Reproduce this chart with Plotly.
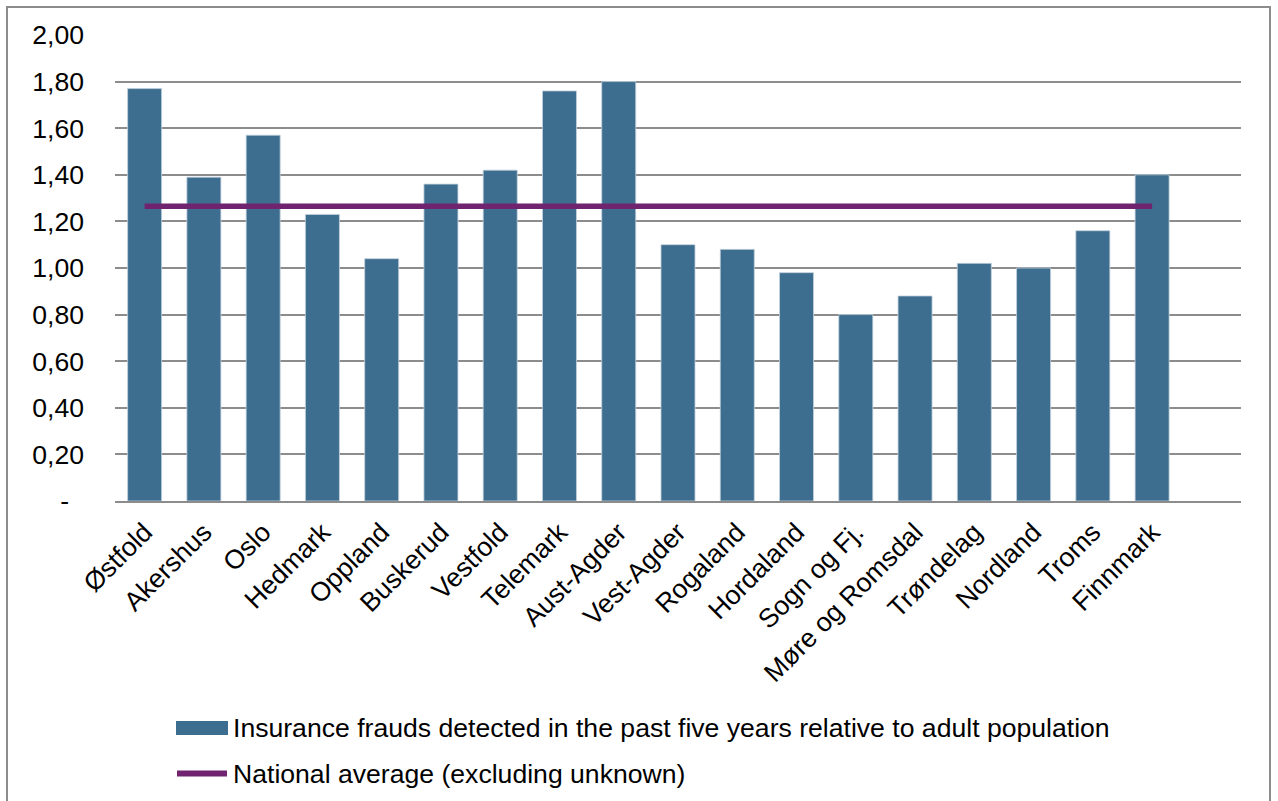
import plotly.graph_objects as go

# County-level data
counties = [
    "Østfold", "Akershus", "Oslo", "Hedmark", "Oppland", "Buskerud",
    "Vestfold", "Telemark", "Aust-Agder", "Vest-Agder", "Rogaland",
    "Hordaland", "Sogn og Fj.", "Møre og Romsdal", "Trøndelag",
    "Nordland", "Troms", "Finnmark",
]
fraud_rate = [
    1.77, 1.39, 1.57, 1.23, 1.04, 1.36, 1.42, 1.76, 1.80,
    1.10, 1.08, 0.98, 0.80, 0.88, 1.02, 1.00, 1.16, 1.40,
]
national_average = 1.265

y_tickvals = [0, 0.2, 0.4, 0.6, 0.8, 1.0, 1.2, 1.4, 1.6, 1.8, 2.0]
y_ticktext = ["-\u00a0\u00a0", "0,20", "0,40", "0,60", "0,80", "1,00",
              "1,20", "1,40", "1,60", "1,80", "2,00"]

bar_label = "Insurance frauds detected in the past five years relative to adult population"
line_label = "National average (excluding unknown)"

BAR_COLOR = "#3d6e8f"
LINE_COLOR = "#70246f"
GRID_COLOR = "#8c8c8c"
FONT = "Liberation Sans, Arial, sans-serif"
FS = 26.6

# Page geometry (pixels)
W, H = 1278, 801
ML, MR, MT, MB = 115, 37, 35, 300
PW = W - ML - MR
PH = H - MT - MB


def px(x):
    return (x - ML) / PW


def py(y):
    return (H - MB - y) / PH


fig = go.Figure()

fig.add_trace(go.Bar(
    x=counties, y=fraud_rate, name=bar_label,
    marker=dict(color=BAR_COLOR, line=dict(color="#c4d2dd", width=0.8)),
    showlegend=False,
))

fig.add_trace(go.Scatter(
    x=counties, y=[national_average] * len(counties), name=line_label,
    mode="lines", line=dict(color=LINE_COLOR, width=5.5),
    showlegend=False,
))

shapes = [
    # outer chart frame
    dict(type="rect", xref="paper", yref="paper",
         x0=px(7), x1=px(1270), y0=py(825), y1=py(7),
         line=dict(color="#8c8c8c", width=2), fillcolor="rgba(0,0,0,0)",
         layer="below"),
    # legend swatches
    dict(type="rect", xref="paper", yref="paper",
         x0=px(176), x1=px(228), y0=py(735), y1=py(721),
         line=dict(width=0), fillcolor=BAR_COLOR),
    dict(type="line", xref="paper", yref="paper",
         x0=px(177), x1=px(227), y0=py(773.5), y1=py(773.5),
         line=dict(color=LINE_COLOR, width=6)),
]

annotations = [
    dict(text=bar_label, xref="paper", yref="paper", x=px(231), y=py(728),
         xanchor="left", yanchor="middle", showarrow=False,
         font=dict(family=FONT, size=FS, color="black")),
    dict(text=line_label, xref="paper", yref="paper", x=px(231), y=py(774),
         xanchor="left", yanchor="middle", showarrow=False,
         font=dict(family=FONT, size=FS, color="black")),
]

fig.update_layout(
    width=W, height=H,
    margin=dict(l=ML, r=MR, t=MT, b=MB, pad=0),
    paper_bgcolor="white", plot_bgcolor="white",
    font=dict(family=FONT, size=FS, color="black"),
    bargap=0.426,
    shapes=shapes,
    annotations=annotations,
    xaxis=dict(
        type="category", categoryorder="array", categoryarray=counties,
        range=[-0.5, len(counties) + 0.5],
        tickangle=-45, showgrid=False, ticks="",
        showline=True, linecolor=GRID_COLOR, linewidth=2,
        tickfont=dict(family=FONT, size=FS, color="black"),
        ticklabelstandoff=3,
        fixedrange=True,
    ),
    yaxis=dict(
        range=[0, 2.0], tickvals=y_tickvals, ticktext=y_ticktext,
        showgrid=True, gridcolor=GRID_COLOR, gridwidth=1.6,
        zeroline=False, showline=False, ticks="",
        ticklabelstandoff=30,
        tickfont=dict(family=FONT, size=FS, color="black"),
        fixedrange=True,
    ),
)

fig.write_html("out.html")
